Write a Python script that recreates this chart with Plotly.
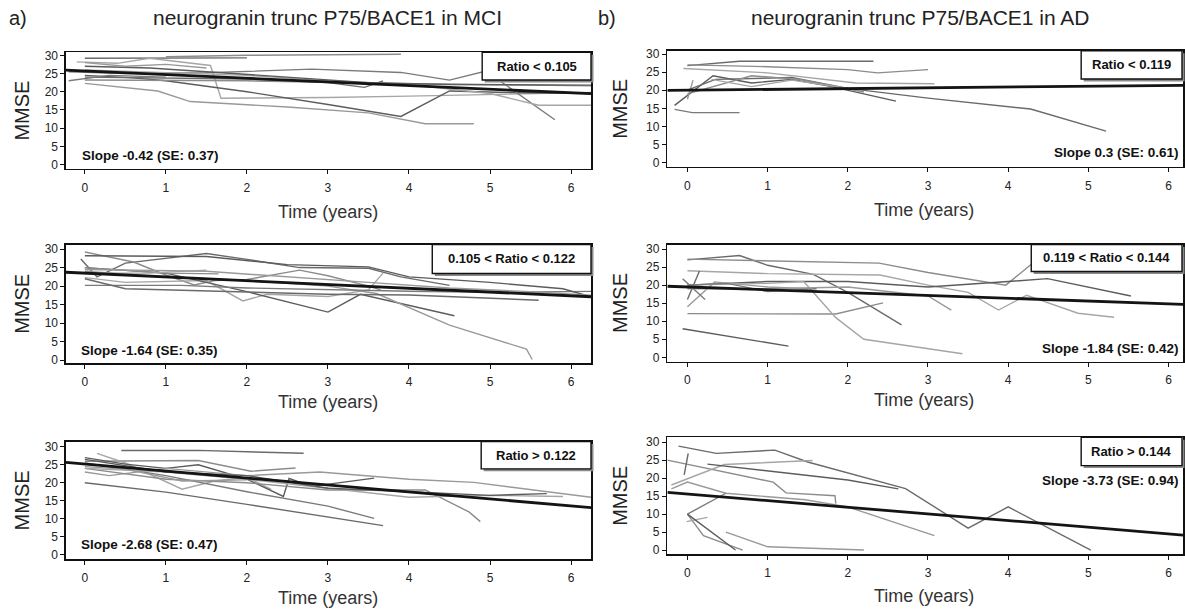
import plotly.graph_objects as go

W, H = 1185, 612

# ---------------- data ----------------
# each trajectory: (time in years, MMSE)
mci_low = [
    ([0, 0.8, 2.0], [29.2, 29.3, 29.3]),
    ([1.0, 2.0, 3.9], [29.6, 30.0, 30.3]),
    ([-0.1, 0.4, 0.8, 1.55, 1.68, 3.0, 4.0, 5.0, 6.3], [28.2, 27.8, 29.2, 27.2, 18.2, 18.4, 18.8, 19.3, 19.8]),
    ([0, 0.6, 1.0, 2.0, 3.0, 3.9, 4.5, 5.2, 6.3], [24.5, 23.8, 23.0, 20.0, 16.5, 13.2, 20.2, 19.8, 19.5]),
    ([0, 0.9, 1.3, 2.5, 3.5, 4.2, 4.8], [22.3, 20.2, 17.3, 15.8, 14.2, 11.2, 11.2]),
    ([-0.2, 0.5, 1.5, 2.8, 3.9, 4.5, 4.95, 5.8], [25.5, 25.0, 25.2, 26.2, 25.3, 23.2, 25.7, 12.3]),
    ([0, 1.0, 2.0, 3.0, 3.45, 3.68], [24.0, 23.8, 23.5, 22.5, 21.2, 23.0]),
    ([0, 2.0, 4.0, 6.3], [23.2, 23.0, 22.2, 21.6]),
    ([0, 1.0, 2.0, 3.0, 4.0, 5.0, 5.6, 6.3], [26.0, 25.3, 24.5, 23.0, 22.0, 19.5, 16.3, 16.3]),
    ([0, 0.8, 1.5, 2.5, 3.5, 4.5, 6.3], [27.0, 26.5, 25.5, 24.0, 22.5, 22.0, 21.8]),
    ([0, 0.5, 1.0, 1.5], [28.0, 27.0, 27.5, 26.5]),
    ([-0.2, 0.3, 1.0], [23.0, 24.5, 24.0]),
]
mci_mid = [
    ([-0.05, 0.15, 0.5, 1.0, 1.5, 2.0, 2.65, 3.5, 3.9, 4.5], [27.3, 22.5, 26.2, 27.5, 28.8, 27.2, 25.0, 24.8, 22.5, 20.2]),
    ([0, 0.6, 1.0, 1.35, 1.6, 2.0, 2.65, 3.0, 3.5, 3.65], [29.2, 26.5, 23.0, 20.3, 21.5, 21.8, 24.3, 22.8, 20.0, 19.0]),
    ([0, 0.5, 1.5, 1.95, 2.25, 3.0, 3.5, 3.68], [22.3, 21.0, 21.5, 16.0, 17.8, 17.2, 19.0, 23.5]),
    ([0, 1.0, 2.0, 3.0, 3.4, 4.56], [25.0, 23.5, 18.5, 13.0, 17.8, 12.0]),
    ([0, 1.0, 2.0, 3.0, 3.6, 4.5, 5.45, 5.52], [24.0, 22.5, 21.5, 20.0, 18.0, 9.5, 3.0, 0.2]),
    ([0, 1.2, 2.0, 3.0, 4.0, 5.0, 6.3], [20.2, 20.2, 19.5, 19.0, 18.6, 18.3, 18.6]),
    ([0, 0.5, 2.0, 3.0, 4.0, 5.6], [22.0, 19.3, 18.4, 17.8, 17.6, 16.2]),
    ([0, 1.0, 1.65], [25.0, 23.5, 23.3]),
    ([0, 0.8, 1.5], [23.5, 23.5, 24.3]),
    ([0, 1.5, 2.5, 3.5, 4.0, 5.0, 5.9, 6.3], [28.2, 28.0, 25.8, 25.2, 22.5, 21.0, 19.3, 16.8]),
    ([0, 1.5, 3.5, 4.5, 5.5, 6.3], [24.5, 24.0, 21.0, 19.5, 18.5, 17.5]),
]
mci_high = [
    ([0.45, 1.4, 2.7], [29.0, 29.0, 28.2]),
    ([0, 0.5, 1.4, 2.05, 2.6], [26.0, 26.0, 26.2, 23.2, 24.1]),
    ([0.15, 0.5, 1.2, 1.6, 2.0, 2.3], [28.2, 25.5, 18.2, 20.5, 21.5, 18.2]),
    ([0, 0.5, 1.0, 1.4, 2.0, 2.45, 2.52, 2.8, 3.57], [27.0, 25.2, 24.0, 25.0, 21.0, 16.2, 21.2, 19.0, 21.3]),
    ([0, 0.3, 1.0, 2.0, 2.9, 4.0, 4.8, 6.3], [23.0, 22.0, 24.0, 22.0, 23.0, 21.0, 20.1, 15.8]),
    ([0, 1.0, 2.0, 3.0, 3.57], [25.5, 22.0, 17.5, 13.5, 10.1]),
    ([0, 1.0, 2.0, 3.0, 3.68], [20.0, 17.4, 14.0, 10.6, 8.1]),
    ([0, 1.0, 2.0, 3.0, 4.2, 4.74, 4.88], [24.0, 21.0, 20.0, 18.0, 18.0, 11.9, 9.2]),
    ([0, 1.0, 2.0, 3.0, 4.0, 5.0, 5.9], [24.0, 23.0, 21.0, 18.5, 16.0, 16.5, 16.2]),
    ([0, 1.0, 2.0, 3.0, 4.0, 5.0, 5.7], [26.5, 23.0, 22.0, 18.5, 17.5, 16.5, 17.0]),
    ([0, 0.5, 1.2, 2.0], [24.5, 23.8, 20.5, 20.8]),
]
ad_low = [
    ([0, 0.65, 2.32], [26.8, 28.0, 28.0]),
    ([0, 1.0, 2.0, 2.37, 3.0], [27.0, 26.5, 25.7, 24.8, 25.7]),
    ([-0.05, 1.0, 2.1, 3.08], [26.0, 24.8, 22.0, 21.8]),
    ([-0.16, 0.32, 0.8, 1.3, 1.8, 2.6], [15.8, 24.0, 22.0, 23.0, 21.0, 17.0]),
    ([0, 0.07], [17.5, 22.8]),
    ([-0.16, 0.06, 0.65], [14.7, 13.8, 13.8]),
    ([0, 0.35, 1.3, 2.0, 3.0, 4.28, 5.22], [20.0, 23.0, 23.5, 20.5, 17.8, 14.8, 8.7]),
    ([0, 0.8, 1.4, 2.2], [19.0, 24.0, 23.0, 19.5]),
    ([0.3, 0.8, 1.3, 2.0], [23.0, 21.0, 22.8, 20.5]),
]
ad_mid = [
    ([0, 0.65, 1.0, 1.57, 2.0, 2.67], [27.0, 28.2, 25.5, 23.0, 18.0, 9.0]),
    ([0, 1.0, 2.39, 3.0, 3.97, 4.3], [27.2, 26.8, 26.1, 23.5, 20.0, 26.0]),
    ([0, 1.0, 2.4, 3.0, 3.5, 3.88, 4.23, 4.87, 5.32], [24.0, 23.2, 22.8, 20.0, 18.0, 13.1, 17.2, 12.2, 11.1]),
    ([0, 1.0, 2.0, 3.0, 4.0, 4.49, 5.53], [20.0, 21.0, 21.0, 19.5, 21.0, 21.8, 17.0]),
    ([0, 0.34, 1.0, 1.5], [14.0, 20.9, 19.5, 19.0]),
    ([-0.06, 0.22], [21.8, 16.0]),
    ([0, 0.15], [16.0, 23.9]),
    ([0, 1.73, 1.85, 2.44], [12.1, 12.1, 12.0, 15.1]),
    ([0, 1.0, 1.45, 1.85, 2.2, 3.43], [20.0, 20.5, 21.0, 11.0, 5.0, 1.0]),
    ([-0.06, 1.26], [7.9, 3.1]),
    ([0, 1.0, 2.0, 3.0, 3.29], [19.0, 19.0, 19.5, 17.0, 13.1]),
    ([0, 0.5, 1.0, 1.61], [20.0, 20.5, 18.2, 19.0]),
]
ad_high = [
    ([-0.11, 0.36, 1.09, 1.5, 2.72, 3.5, 4.0, 5.03], [28.9, 26.9, 27.8, 24.5, 17.1, 6.1, 12.0, 0.0]),
    ([-0.25, 1.07, 1.23, 1.84, 1.85], [25.0, 18.9, 15.9, 15.1, 12.9]),
    ([-0.2, 0.46, 1.56], [18.1, 23.8, 24.9]),
    ([0.25, 1.0, 2.0, 2.63], [23.9, 22.0, 19.5, 17.0]),
    ([-0.2, 0.0, 0.48, 1.47, 2.0, 3.08], [17.0, 18.9, 15.8, 14.0, 12.0, 4.0]),
    ([0, 0.48], [10.0, 15.8]),
    ([0.01, -0.04], [26.9, 20.9]),
    ([0, 0.2, 0.69], [10.0, 4.0, 0.0]),
    ([-0.01, 0.25], [7.9, 9.1]),
    ([0, 0.6], [10.0, 0.0]),
    ([0.48, 1.0, 2.2], [5.0, 0.9, 0.0]),
]

# fitted group lines: (intercept, slope per year) as drawn
reg_lines = {
    "mci_low": (25.7, -1.0),
    "mci_mid": (23.5, -1.02),
    "mci_high": (25.2, -1.94),
    "ad_low": (20.0, 0.22),
    "ad_mid": (19.5, -0.78),
    "ad_high": (15.6, -1.85),
}
ratio_labels = {
    "mci_low": "Ratio < 0.105",
    "mci_mid": "0.105 < Ratio < 0.122",
    "mci_high": "Ratio > 0.122",
    "ad_low": "Ratio < 0.119",
    "ad_mid": "0.119 < Ratio < 0.144",
    "ad_high": "Ratio > 0.144",
}
slope_labels = {
    "mci_low": "Slope -0.42 (SE: 0.37)",
    "mci_mid": "Slope -1.64 (SE: 0.35)",
    "mci_high": "Slope -2.68 (SE: 0.47)",
    "ad_low": "Slope 0.3 (SE: 0.61)",
    "ad_mid": "Slope -1.84 (SE: 0.42)",
    "ad_high": "Slope -3.73 (SE: 0.94)",
}
x_ticks = [0, 1, 2, 3, 4, 5, 6]
y_ticks = [0, 5, 10, 15, 20, 25, 30]

# ---------------- layout (pixel geometry) ----------------
def fx(px):
    return px / W

def fy(py):
    return 1 - py / H

panels = [
    dict(key="mci_low", data=mci_low, fr=(66, 592, 49, 167), xr=[-0.234, 6.246], yr=[-1.17, 30.81],
         box=(483, 592, 49, 77), sl=(80, 154), anchor="left"),
    dict(key="ad_low", data=ad_low, fr=(668.5, 1185, 47.5, 165), xr=[-0.25, 6.18], yr=[-1.17, 30.87],
         box=(1083, 1184, 47.5, 76), sl=(1183, 150), anchor="right"),
    dict(key="mci_mid", data=mci_mid, fr=(66, 592, 243.7, 364), xr=[-0.234, 6.246], yr=[-0.8, 31.22],
         box=(433, 592, 243.7, 273), sl=(79, 351), anchor="left"),
    dict(key="ad_mid", data=ad_mid, fr=(668.5, 1185, 243.7, 362.3), xr=[-0.25, 6.18], yr=[-1.18, 31.26],
         box=(1033, 1184, 243.7, 271), sl=(1183, 349), anchor="right"),
    dict(key="mci_high", data=mci_high, fr=(66, 592, 443.3, 562.7), xr=[-0.234, 6.246], yr=[-1.29, 31.48],
         box=(482, 592, 443.3, 471), sl=(79, 548), anchor="left"),
    dict(key="ad_high", data=ad_high, fr=(668.5, 1185, 439, 557.7), xr=[-0.25, 6.18], yr=[-1.21, 31.37],
         box=(1083, 1184, 439, 467.7), sl=(1183, 483), anchor="right"),
]

shades = ["#6a6a6a", "#8c8c8c", "#a6a6a6", "#5c5c5c", "#999999", "#7a7a7a"]
FONT = "Arial, Liberation Sans, sans-serif"

fig = go.Figure()
layout = dict(
    width=W, height=H, margin=dict(l=0, r=0, t=0, b=0),
    paper_bgcolor="white", plot_bgcolor="white", showlegend=False,
    font=dict(family=FONT, color="#222"),
)
annotations = []
shapes = []

for i, p in enumerate(panels):
    n = i + 1
    xa = "x" if n == 1 else f"x{n}"
    ya = "y" if n == 1 else f"y{n}"
    l, r, t, b = p["fr"]
    for j, (tx, ty) in enumerate(p["data"]):
        fig.add_trace(go.Scatter(x=tx, y=ty, mode="lines", xaxis=xa, yaxis=ya,
                                 line=dict(color=shades[j % len(shades)], width=1.4),
                                 hoverinfo="skip"))
    a0, s0 = reg_lines[p["key"]]
    rx = [p["xr"][0], p["xr"][1]]
    fig.add_trace(go.Scatter(x=rx, y=[a0 + s0 * v for v in rx], mode="lines", xaxis=xa, yaxis=ya,
                             line=dict(color="#141414", width=2.8), hoverinfo="skip"))
    axis_common = dict(showline=True, mirror=True, linecolor="#111", linewidth=1.5,
                       ticks="outside", ticklen=4, tickwidth=1, tickcolor="#111",
                       showgrid=False, zeroline=False, fixedrange=True,
                       tickfont=dict(family=FONT, size=12, color="#222"))
    layout["xaxis" if n == 1 else f"xaxis{n}"] = dict(
        axis_common, domain=[fx(l), fx(r)], range=p["xr"], anchor=ya,
        tickvals=x_ticks, ticklabelstandoff=3)
    layout["yaxis" if n == 1 else f"yaxis{n}"] = dict(
        axis_common, domain=[fy(b), fy(t)], range=p["yr"], anchor=xa,
        tickvals=y_ticks)

    # ratio box with shadow
    bl, br, bt, bb = p["box"]
    shapes.append(dict(type="rect", xref="paper", yref="paper", layer="above",
                       x0=fx(bl + 2.5), x1=fx(br + 2.5), y0=fy(bb + 2.5), y1=fy(bt + 2.5),
                       fillcolor="#8a8a8a", line=dict(width=0)))
    shapes.append(dict(type="rect", xref="paper", yref="paper", layer="above",
                       x0=fx(bl), x1=fx(br), y0=fy(bb), y1=fy(bt),
                       fillcolor="white", line=dict(color="#111", width=1.4)))
    annotations.append(dict(x=fx((bl + br) / 2), y=fy((bt + bb) / 2), xref="paper", yref="paper",
                            text=f"<b>{ratio_labels[p['key']]}</b>", showarrow=False,
                            xanchor="center", yanchor="middle",
                            font=dict(family=FONT, size=13, color="#111")))
    sx, sy = p["sl"]
    annotations.append(dict(x=fx(sx), y=fy(sy), xref="paper", yref="paper",
                            text=f"<b>{slope_labels[p['key']]}</b>", showarrow=False,
                            xanchor=p["anchor"], yanchor="middle",
                            font=dict(family=FONT, size=13.5, color="#111")))
    mx = 22 if l < 300 else 621
    annotations.append(dict(x=fx(mx), y=fy((t + b) / 2), xref="paper", yref="paper",
                            text="MMSE", showarrow=False, textangle=-90,
                            xanchor="center", yanchor="middle",
                            font=dict(family=FONT, size=20, color="#222")))

time_title_pos = [(329, 211), (926, 208.5), (329, 403), (926, 401.5), (329, 601.5), (926, 599.5)]
for (tx, ty) in time_title_pos:
    annotations.append(dict(x=fx(tx), y=fy(ty), xref="paper", yref="paper",
                            text="Time (years)", showarrow=False,
                            xanchor="center", yanchor="middle",
                            font=dict(family=FONT, size=18, color="#333")))

annotations += [
    dict(x=fx(18), y=fy(14), xref="paper", yref="paper", text="a)", showarrow=False,
         xanchor="center", yanchor="middle", font=dict(family=FONT, size=20, color="#222")),
    dict(x=fx(328), y=fy(14), xref="paper", yref="paper", text="neurogranin trunc P75/BACE1 in MCI",
         showarrow=False, xanchor="center", yanchor="middle", font=dict(family=FONT, size=21, color="#222")),
    dict(x=fx(608), y=fy(14), xref="paper", yref="paper", text="b)", showarrow=False,
         xanchor="center", yanchor="middle", font=dict(family=FONT, size=20, color="#222")),
    dict(x=fx(922), y=fy(14), xref="paper", yref="paper", text="neurogranin trunc P75/BACE1 in AD",
         showarrow=False, xanchor="center", yanchor="middle", font=dict(family=FONT, size=21, color="#222")),
]

layout["annotations"] = annotations
layout["shapes"] = shapes
fig.update_layout(**layout)
fig.write_html("out.html", config={"displayModeBar": False, "staticPlot": True},
               post_script="document.body.style.margin='0';document.body.style.overflow='hidden';")
